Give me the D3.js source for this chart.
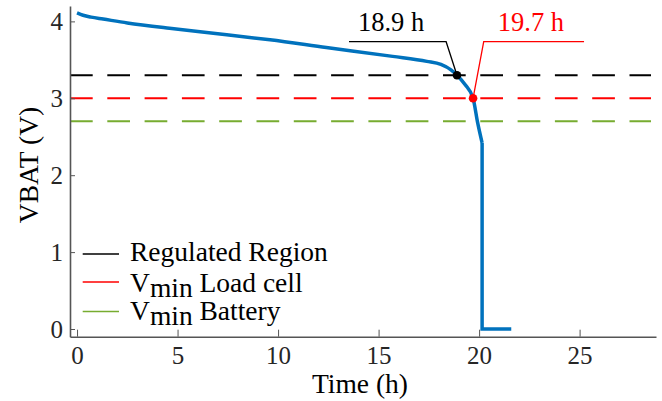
<!DOCTYPE html>
<html>
<head>
<meta charset="utf-8">
<script src="https://cdn.jsdelivr.net/npm/d3@7"></script>
<style>
  html, body { margin: 0; padding: 0; background: #fff; }
  svg { display: block; font-family: "Liberation Serif", "Times New Roman", serif; }
</style>
</head>
<body>
<svg id="chart" width="662" height="401"></svg>
<script>
// ---- data ----
const timeH = [0, 0.3, 0.7, 1.3, 2.5, 4.6, 7.0, 9.6, 12.4, 15.7, 17.4, 18.1, 18.6, 18.9, 19.3, 19.7, 19.93, 20.15, 20.15, 21.6];
const vbat  = [4.11, 4.08, 4.055, 4.03, 3.98, 3.91, 3.84, 3.76, 3.66, 3.545, 3.48, 3.44, 3.37, 3.3, 3.18, 3.0, 2.68, 2.42, 0, 0];
const thresholdNames = ["Regulated Region", "Vmin Load cell", "Vmin Battery"];
const thresholdValues = [3.3, 3.0, 2.7];
const thresholdColors = ["#000000", "#ff0000", "#77ac30"];
const xTicks = [0, 5, 10, 15, 20, 25];
const yTicks = [0, 1, 2, 3, 4];
const markTimes = [18.9, 19.7];
const markVolts = [3.3, 3.0];
const markLabels = ["18.9 h", "19.7 h"];
const markColors = ["#000000", "#ff0000"];
// annotation leader anchors in data units
const leaderStartT = [13.53, 25.22];
const leaderElbowT = [18.36, 20.23];
const leaderV = 3.736;
const labelT = [15.62, 22.58];
const labelV = 3.876;

// ---- scales ----
const svg = d3.select("#chart");
const x = d3.scaleLinear().domain([-0.35, 28.8]).range([70, 656]);
const y = d3.scaleLinear().domain([-0.1, 4.2]).range([336.7, 6]);
const axisColor = "#555555";
const textColor = "#262626";

// threshold dashed lines
svg.selectAll("line.thr").data(thresholdValues).enter().append("line")
  .attr("class", "thr")
  .attr("x1", x.range()[0]).attr("x2", 651)
  .attr("y1", d => y(d)).attr("y2", d => y(d))
  .attr("stroke", (d, i) => thresholdColors[i])
  .attr("stroke-width", 2)
  .attr("stroke-dasharray", "22.7,14.6");

// battery curve: smooth discharge part + abrupt cutoff
const pts = timeH.map((t, i) => [t, vbat[i]]);
const smoothPts = pts.slice(0, 18);
const cutPts = pts.slice(17);
svg.append("path")
  .datum(smoothPts)
  .attr("fill", "none")
  .attr("stroke", "#0072bd")
  .attr("stroke-width", 3.5)
  .attr("stroke-linejoin", "round")
  .attr("d", d3.line().x(d => x(d[0])).y(d => y(d[1])).curve(d3.curveMonotoneX));
svg.append("path")
  .datum(cutPts)
  .attr("fill", "none")
  .attr("stroke", "#0072bd")
  .attr("stroke-width", 3.5)
  .attr("stroke-linejoin", "miter")
  .attr("d", d3.line().x(d => x(d[0])).y(d => y(d[1])));

// leader lines
markTimes.forEach((t, i) => {
  svg.append("polyline")
    .attr("fill", "none")
    .attr("stroke", markColors[i])
    .attr("stroke-width", 1.3)
    .attr("points", [[x(leaderStartT[i]), y(leaderV)], [x(leaderElbowT[i]), y(leaderV)], [x(t), y(markVolts[i])]].map(p => p.join(",")).join(" "));
  svg.append("text")
    .attr("x", x(labelT[i])).attr("y", y(labelV))
    .attr("text-anchor", "middle")
    .attr("font-size", 26.5)
    .attr("fill", markColors[i])
    .text(markLabels[i]);
});
svg.selectAll("circle.mark").data(markTimes).enter().append("circle")
  .attr("class", "mark")
  .attr("cx", d => x(d)).attr("cy", (d, i) => y(markVolts[i]))
  .attr("r", 4.3)
  .attr("fill", (d, i) => markColors[i]);

// axes
const xAxis = d3.axisBottom(x).tickValues(xTicks).tickFormat(d3.format("d")).tickSizeInner(-7).tickSizeOuter(0);
const yAxis = d3.axisLeft(y).tickValues(yTicks).tickFormat(d3.format("d")).tickSizeInner(-5).tickSizeOuter(0);
const gx = svg.append("g").attr("transform", `translate(0,${y.range()[0]})`).call(xAxis);
const gy = svg.append("g").attr("transform", `translate(${x.range()[0]},0)`).call(yAxis);
[gx, gy].forEach(g => {
  g.select(".domain").attr("stroke", axisColor).attr("stroke-width", 1.6);
  g.selectAll(".tick line").attr("stroke", axisColor).attr("stroke-width", 1);
  g.selectAll(".tick text").attr("fill", textColor).attr("font-size", 25).attr("font-family", "Liberation Serif, serif");
});
gx.selectAll(".tick text").attr("dy", "0.71em").attr("y", 10);
gy.selectAll(".tick text").attr("x", -7);

// axis labels
svg.append("text")
  .attr("x", 360).attr("y", 393)
  .attr("text-anchor", "middle").attr("font-size", 27.5).attr("fill", "#000")
  .text("Time (h)");
svg.append("text")
  .attr("transform", "translate(38,165) rotate(-90)")
  .attr("text-anchor", "middle").attr("font-size", 27.5).attr("fill", "#000")
  .text("VBAT (V)");

// legend
const rowY = [254, 282, 311.5];
const baseOff = [7, 9.7, 8.5];
const leg = svg.append("g");
thresholdNames.forEach((name, i) => {
  leg.append("line")
    .attr("x1", 82.7).attr("x2", 119).attr("y1", rowY[i]).attr("y2", rowY[i])
    .attr("stroke", thresholdColors[i]).attr("stroke-width", 1.5);
  const t = leg.append("text")
    .attr("x", 130).attr("y", rowY[i] + baseOff[i])
    .attr("font-size", 27.5).attr("fill", "#000");
  if (name.startsWith("Vmin")) {
    t.append("tspan").text("V");
    t.append("tspan").attr("dy", 5).text("min");
    t.append("tspan").attr("dy", -5).text(" " + name.slice(5));
  } else {
    t.text(name);
  }
});
</script>
</body>
</html>
